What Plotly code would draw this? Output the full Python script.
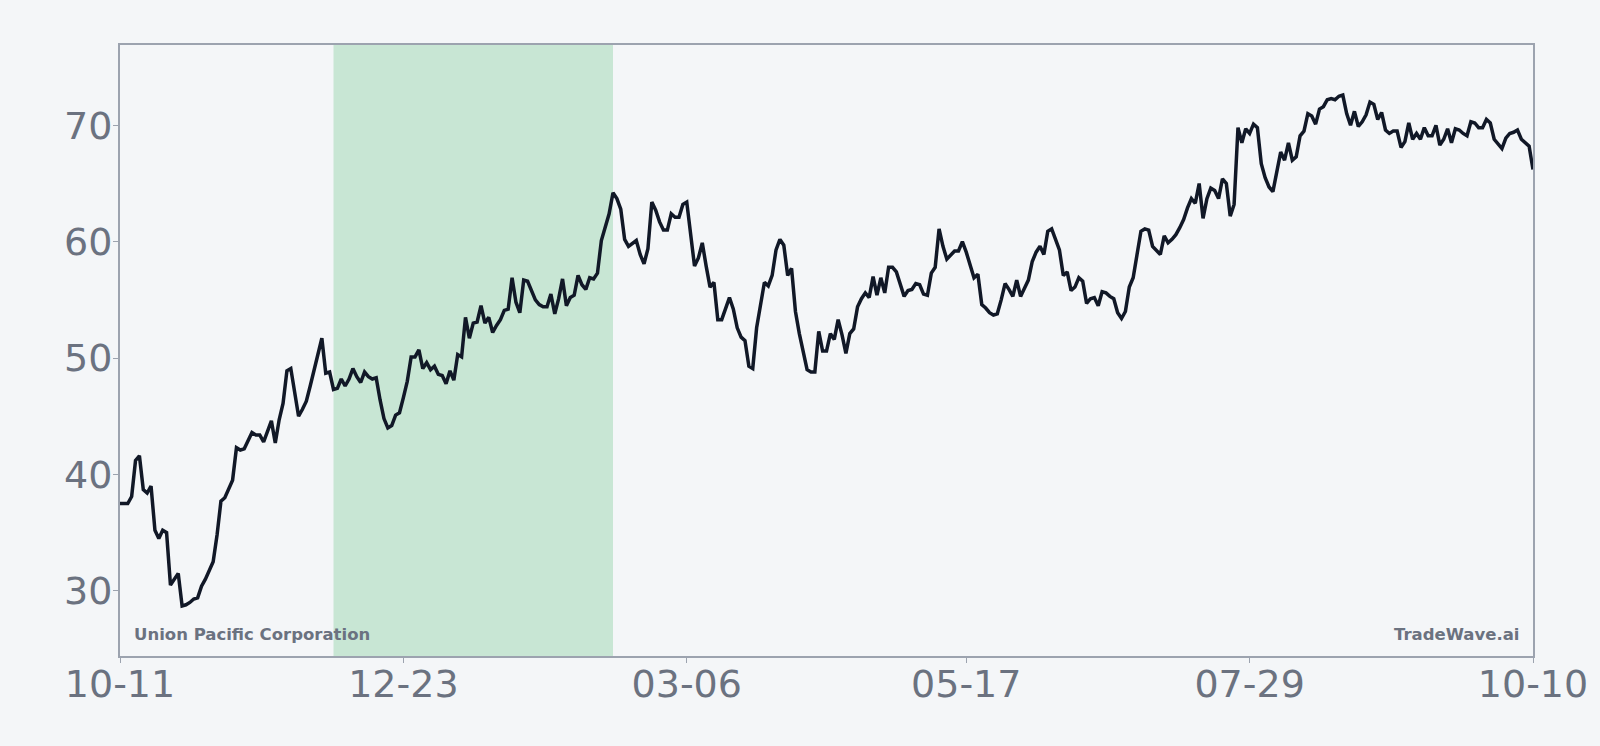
import pandas as pd
import plotly.graph_objects as go

# daily closes, 2022-10-11 .. 2023-10-10
start_date = "2022-10-11"
end_date = "2023-10-10"
closes = [
    37.5, 37.5, 37.5, 38.1, 41.2, 41.6, 38.7, 38.4, 39.0, 35.2,
    34.5, 35.2, 35.0, 30.5, 31.0, 31.5, 28.7, 28.8, 29.0, 29.3,
    29.4, 30.4, 31.0, 31.8, 32.5, 34.8, 37.7, 38.0, 38.8, 39.5,
    42.3, 42.1, 42.2, 42.9, 43.6, 43.4, 43.4, 42.8, 43.8, 44.6,
    42.7, 44.7, 46.1, 48.9, 49.1, 47.0, 45.0, 45.6, 46.3, 47.6,
    48.9, 50.3, 51.7, 48.7, 48.8, 47.3, 47.4, 48.2, 47.6, 48.2,
    49.1, 48.4, 47.9, 48.8, 48.4, 48.2, 48.3, 46.4, 44.8, 44.0,
    44.2, 45.1, 45.3, 46.6, 48.0, 50.1, 50.1, 50.7, 49.1, 49.6,
    49.0, 49.3, 48.6, 48.5, 47.8, 48.9, 48.1, 50.3, 50.1, 53.5,
    51.7, 53.0, 53.1, 54.5, 53.0, 53.5, 52.2, 52.8, 53.3, 54.1,
    54.2, 56.9, 54.8, 53.9, 56.7, 56.6, 55.7, 55.0, 54.6, 54.4,
    54.4, 55.5, 53.8, 55.1, 56.8, 54.5, 55.2, 55.4, 57.1, 56.3,
    55.9, 56.9, 56.8, 57.3, 60.1, 61.3, 62.4, 64.2, 63.7, 62.8,
    60.2, 59.6, 59.9, 60.1, 58.9, 58.1, 59.4, 63.4, 62.7, 61.7,
    61.0, 61.0, 62.4, 62.1, 62.1, 63.2, 63.4, 60.9, 57.9, 58.6,
    59.9, 57.9, 56.1, 56.5, 53.3, 53.3, 54.2, 55.2, 54.2, 52.6,
    51.8, 51.5, 49.3, 49.1, 52.6, 54.4, 56.5, 56.2, 57.1, 59.3,
    60.2, 59.7, 57.1, 57.7, 54.0, 52.1, 50.7, 49.0, 48.8, 48.8,
    52.3, 50.6, 50.6, 52.1, 51.6, 53.3, 52.0, 50.4, 52.1, 52.5,
    54.4, 55.1, 55.6, 55.2, 57.0, 55.4, 56.9, 55.6, 57.8, 57.8,
    57.4, 56.4, 55.3, 55.8, 55.9, 56.4, 56.3, 55.5, 55.4, 57.3,
    57.8, 61.1, 59.6, 58.5, 58.8, 59.2, 59.2, 60.0, 59.1, 58.1,
    56.9, 57.2, 54.6, 54.3, 53.9, 53.7, 53.8, 55.0, 56.4, 55.9,
    55.3, 56.7, 55.3, 56.0, 56.7, 58.3, 59.1, 59.6, 58.9, 60.9,
    61.1, 60.2, 59.3, 57.1, 57.4, 55.8, 56.1, 56.9, 56.6, 54.7,
    55.1, 55.2, 54.5, 55.7, 55.6, 55.3, 55.1, 53.9, 53.4, 54.0,
    56.1, 56.9, 58.7, 60.9, 61.1, 61.0, 59.6, 59.3, 58.9, 60.5,
    59.9, 60.2, 60.6, 61.2, 61.9, 62.9, 63.7, 63.3, 65.0, 62.0,
    63.7, 64.6, 64.4, 63.7, 65.4, 65.0, 62.2, 63.2, 69.8, 68.5,
    69.7, 69.3, 70.1, 69.8, 66.7, 65.5, 64.7, 64.3, 65.9, 67.7,
    67.0, 68.5, 67.0, 67.3, 69.1, 69.5, 71.0, 70.8, 70.1, 71.4,
    71.6, 72.2, 72.3, 72.2, 72.5, 72.6, 71.0, 70.0, 71.2, 69.9,
    70.3, 70.9, 72.0, 71.8, 70.5, 71.1, 69.6, 69.3, 69.5, 69.5,
    68.1, 68.6, 70.2, 68.8, 69.3, 68.8, 69.8, 69.1, 69.1, 70.0,
    68.3, 68.8, 69.7, 68.5, 69.7, 69.6, 69.3, 69.1, 70.3, 70.2,
    69.8, 69.8, 70.5, 70.2, 68.8, 68.4, 68.0, 68.9, 69.3, 69.4,
    69.6, 68.8, 68.5, 68.2, 66.2,
]

# highlighted window and axis ticks
shade_start = "2022-12-05"
shade_end = "2023-02-15"
tick_dates = ["2022-10-11", "2022-12-23", "2023-03-06", "2023-05-17", "2023-07-29", "2023-10-10"]

company = "Union Pacific Corporation"
brand = "TradeWave.ai"

dates = pd.date_range(start_date, periods=len(closes), freq="D")

bg = "#f4f6f8"
axis_col = "#9ca3af"
text_col = "#6b7280"

fig = go.Figure()

fig.add_vrect(x0=shade_start, x1=shade_end, fillcolor="#c8e6d4", opacity=1,
              line_width=0, layer="below")

fig.add_trace(go.Scatter(x=dates, y=closes, mode="lines",
                         line=dict(color="#111827", width=3.5),
                         showlegend=False, hoverinfo="skip"))

fig.update_xaxes(range=[start_date, end_date], tickvals=tick_dates, tickformat="%m-%d",
                 showgrid=False, zeroline=False, showline=True, linecolor=axis_col,
                 linewidth=2, mirror=True, ticks="outside", ticklen=5, tickcolor=axis_col,
                 ticklabelstandoff=-12,
                 tickfont=dict(family="DejaVu Sans", size=38, color=text_col))
fig.update_yaxes(range=[24.4, 76.9], tickvals=[30, 40, 50, 60, 70],
                 showgrid=False, zeroline=False, showline=True, linecolor=axis_col,
                 linewidth=2, mirror=True, ticks="outside", ticklen=5, tickcolor=axis_col,
                 ticklabelstandoff=-7,
                 tickfont=dict(family="DejaVu Sans", size=38, color=text_col))

fig.add_annotation(text="<b>" + company + "</b>", xref="paper", yref="paper", x=0, y=0,
                   xanchor="left", yanchor="bottom", xshift=12, yshift=10, showarrow=False,
                   font=dict(family="DejaVu Sans", size=16.5, color=text_col))
fig.add_annotation(text="<b>" + brand + "</b>", xref="paper", yref="paper", x=1, y=0,
                   xanchor="right", yanchor="bottom", xshift=-12, yshift=10, showarrow=False,
                   font=dict(family="DejaVu Sans", size=16.5, color=text_col))

fig.update_layout(width=1600, height=746, paper_bgcolor=bg, plot_bgcolor=bg,
                  margin=dict(l=120, r=62, t=45, b=90),
                  font=dict(family="DejaVu Sans", color=text_col))

# page margin off so the figure fills the window
fig.write_html("out.html", config={"displayModeBar": False},
               post_script="document.body.style.margin='0';document.body.style.background='" + bg + "';")
